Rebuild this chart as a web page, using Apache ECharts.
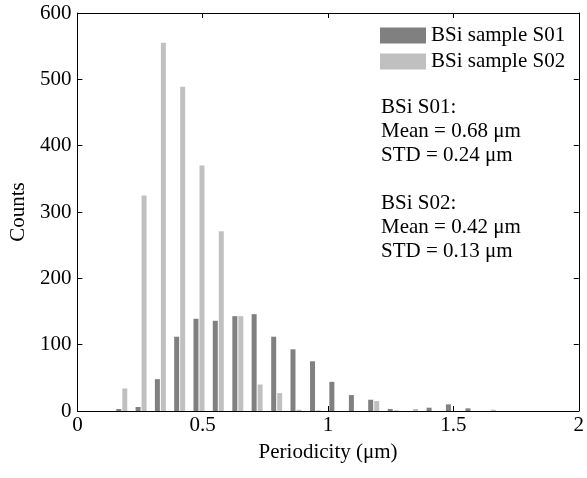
<!DOCTYPE html>
<html>
<head>
<meta charset="utf-8">
<script src="https://cdn.jsdelivr.net/npm/echarts@6/dist/echarts.min.js"></script>
<style>
  html, body { margin: 0; padding: 0; background: #fff; }
  #histChart { width: 587px; height: 478px; }
</style>
</head>
<body>
<div id="histChart"></div>
<script>
// bin centres (um)
let binCenters = [0.177, 0.254, 0.331, 0.408, 0.485, 0.562, 0.640, 0.717, 0.795, 0.872,
  0.950, 1.027, 1.105, 1.182, 1.260, 1.337, 1.415, 1.492, 1.570, 1.647]
// counts per bin
let s01Counts = [3, 6, 48, 112, 139, 136, 143, 146, 112, 93, 75, 44, 24, 17, 3, 0, 5, 10, 4, 0]
let s02Counts = [34, 325, 555, 489, 370, 271, 143, 40, 27, 2, 1, 0, 0, 15, 1, 3, 0, 0, 0, 2]
let seriesNames = ['BSi sample S01', 'BSi sample S02']
let statLines = ['BSi S01:', 'Mean = 0.68 \u03bcm', 'STD = 0.24 \u03bcm', '',
  'BSi S02:', 'Mean = 0.42 \u03bcm', 'STD = 0.13 \u03bcm']
let yTicks = [0, 100, 200, 300, 400, 500, 600]
let xTicks = [0, 0.5, 1, 1.5, 2]

const FONT = '"Liberation Serif", "DejaVu Serif", serif'
const FS = 21

function pairs (xs, ys) {
  return xs.map(function (x, i) { return [x, ys[i]] })
}

let myChart = echarts.init(document.getElementById('histChart'))

let axisCommon = {
  axisLine: { show: true, onZero: false, lineStyle: { color: '#000', width: 1 } },
  axisTick: { show: true, inside: true, length: 5, lineStyle: { color: '#000' } },
  splitLine: { show: false }
}

myChart.setOption({
  animation: false,
  textStyle: { fontFamily: FONT },
  grid: { left: 76, right: 4, top: 13, bottom: 67 },
  legend: {
    data: seriesNames,
    orient: 'vertical',
    left: 380,
    top: 25,
    padding: 0,
    itemWidth: 46,
    itemHeight: 16,
    itemGap: 5,
    icon: 'rect',
    textStyle: { fontFamily: FONT, fontSize: FS, color: '#000' }
  },
  graphic: [{
    type: 'text',
    left: 381,
    top: 95,
    style: {
      text: statLines.join('\n'),
      font: FS + 'px ' + FONT,
      fill: '#000',
      lineHeight: 24
    }
  }],
  xAxis: [
    Object.assign({}, axisCommon, {
      type: 'value',
      min: xTicks[0],
      max: xTicks[xTicks.length - 1],
      interval: 0.5,
      name: 'Periodicity (\u03bcm)',
      nameLocation: 'middle',
      nameGap: 31,
      nameTextStyle: { fontFamily: FONT, fontSize: FS, color: '#000' },
      axisLabel: { color: '#000', fontSize: FS, fontFamily: FONT, margin: 4 }
    }),
    Object.assign({}, axisCommon, {
      type: 'value',
      position: 'top',
      min: xTicks[0],
      max: xTicks[xTicks.length - 1],
      interval: 0.5,
      axisLabel: { show: false }
    })
  ],
  yAxis: [
    Object.assign({}, axisCommon, {
      type: 'value',
      min: yTicks[0],
      max: yTicks[yTicks.length - 1],
      interval: 100,
      name: 'Counts',
      nameLocation: 'middle',
      nameGap: 42,
      nameTextStyle: { fontFamily: FONT, fontSize: FS, color: '#000' },
      axisLabel: { color: '#000', fontSize: FS, fontFamily: FONT, margin: 6 }
    }),
    Object.assign({}, axisCommon, {
      type: 'value',
      position: 'right',
      min: yTicks[0],
      max: yTicks[yTicks.length - 1],
      interval: 100,
      axisLabel: { show: false }
    })
  ],
  series: [
    {
      name: seriesNames[0],
      type: 'bar',
      data: pairs(binCenters, s01Counts),
      barWidth: 5,
      barGap: '20%',
      itemStyle: { color: '#808080' }
    },
    {
      name: seriesNames[1],
      type: 'bar',
      data: pairs(binCenters, s02Counts),
      barWidth: 5,
      barGap: '20%',
      itemStyle: { color: '#c0c0c0' }
    }
  ]
})
</script>
</body>
</html>
